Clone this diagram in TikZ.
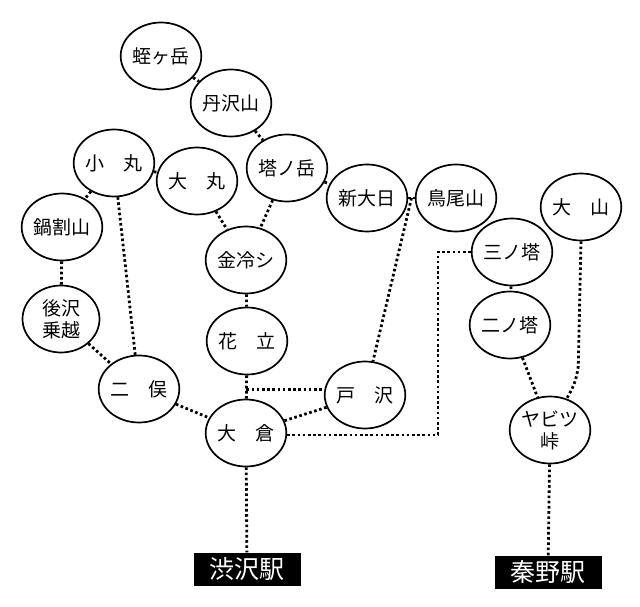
\documentclass[tikz,border=0pt]{standalone}
\usepackage{fontspec}
\setmainfont{Noto Sans CJK JP}
\usetikzlibrary{shapes.geometric,calc}
\tikzset{
  peak/.style={ellipse,draw,line width=1.7pt,minimum width=77pt,minimum height=67pt,inner sep=0pt,fill=white,
    font=\fontsize{19}{22}\selectfont,align=center},
  station/.style={fill=black,text=white,minimum width=107pt,minimum height=33pt,inner sep=0pt,
    font=\fontsize{25}{28}\selectfont},
  trail/.style={line width=2.8pt,dash pattern=on 2.6pt off 2.6pt}
}
\begin{document}
\begin{tikzpicture}[x=1pt,y=-1pt]
\useasboundingbox (0,0) rectangle (640,607);
\coordinate (hiru) at (161,56);
\coordinate (tanzawa) at (231,103);
\coordinate (tono) at (287,168);
\coordinate (komaru) at (114,163);
\coordinate (omaru) at (197,181);
\coordinate (nabe) at (62,227);
\coordinate (kinrei) at (246,260);
\coordinate (shin) at (367,198);
\coordinate (tori) at (456,198);
\coordinate (oyama) at (581,207);
\coordinate (san) at (512,252);
\coordinate (ushiro) at (61,319);
\coordinate (hana) at (247,341);
\coordinate (futa) at (139,389);
\coordinate (okura) at (246,433);
\coordinate (ni) at (510,325);
\coordinate (tozawa) at (365,395);
\coordinate (yabi) at (550,430);

\node[peak] (n-hiru) at (hiru) {蛭ヶ岳};
\node[peak] (n-tanzawa) at (tanzawa) {丹沢山};
\node[peak] (n-tono) at (tono) {塔ノ岳};
\node[peak] (n-komaru) at (komaru) {小　丸};
\node[peak] (n-omaru) at (omaru) {大　丸};
\node[peak] (n-nabe) at (nabe) {鍋割山};
\node[peak] (n-kinrei) at (kinrei) {金冷シ};
\node[peak] (n-shin) at (shin) {新大日};
\node[peak] (n-tori) at (tori) {鳥尾山};
\node[peak] (n-oyama) at (oyama) {大　山};
\node[peak] (n-san) at (san) {三ノ塔};
\node[peak] (n-ushiro) at (ushiro) {後沢\\乗越};
\node[peak] (n-hana) at (hana) {花　立};
\node[peak] (n-futa) at (futa) {二　俣};
\node[peak] (n-okura) at (okura) {大　倉};
\node[peak] (n-ni) at (ni) {二ノ塔};
\node[peak] (n-tozawa) at (tozawa) {戸　沢};
\node[peak] (n-yabi) at (yabi) {ヤビツ\\峠};
\node[station] (shibu) at (247,569) {渋沢駅};
\node[station] (hadano) at (548,572) {秦野駅};

\coordinate (j1) at ($(n-shin.east)!0.5!(n-tori.west)$);
\coordinate (j2) at ($(n-hana.south)!0.6!(n-okura.north)$);
\coordinate (c1) at (438,435);
\coordinate (c2) at (578,378);

\draw[trail] (n-hiru) -- (n-tanzawa);
\draw[trail] (n-tanzawa) -- (n-tono);
\draw[trail] (n-tono) -- (n-shin);
\draw[trail] (n-shin) -- (n-tori);
\draw[trail] (n-komaru) -- (n-omaru);
\draw[trail] (n-komaru) -- (n-nabe);
\draw[trail] (n-komaru) -- (n-futa);
\draw[trail] (n-omaru) -- (n-kinrei);
\draw[trail] (n-tono) -- (n-kinrei);
\draw[trail] (n-kinrei) -- (n-hana);
\draw[trail] (n-nabe) -- (n-ushiro);
\draw[trail] (n-ushiro) -- (n-futa);
\draw[trail] (n-futa) -- (n-okura);
\draw[trail] (n-hana) -- (n-okura);
\draw[trail] (j2) -- (j2 -| n-tozawa.west);
\draw[trail] (n-okura) -- (n-tozawa);
\draw[trail] (j1) -- (n-tozawa);
\draw[trail] (n-okura.east |- c1) -- (c1) |- (n-san.west);
\draw[trail] (n-san) -- (n-ni);
\draw[trail] (n-ni) -- (n-yabi);
\draw[trail,rounded corners=14pt] (n-oyama.south) -- (c2) -- (n-yabi.62);
\draw[trail] (n-okura) -- (shibu);
\draw[trail] (n-yabi) -- (hadano);
\end{tikzpicture}
\end{document}
